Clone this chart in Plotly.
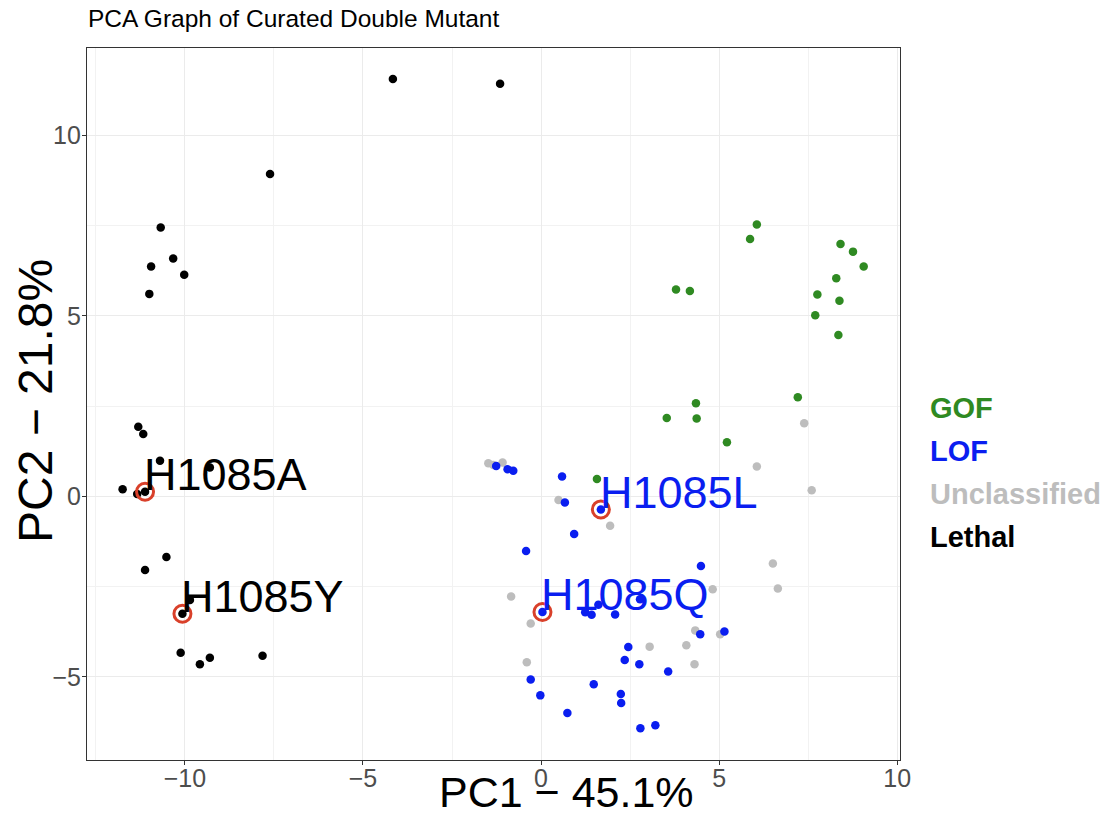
import plotly.graph_objects as go

# ---- data ----
gof_x = [6.06, 5.87, 8.41, 8.76, 9.06, 8.29, 3.79, 4.18, 7.76, 8.38, 7.70, 8.35,
         7.21, 4.35, 3.53, 4.37, 5.22, 1.57]
gof_y = [7.53, 7.13, 6.99, 6.78, 6.37, 6.04, 5.73, 5.69, 5.59, 5.42, 5.02, 4.47,
         2.75, 2.58, 2.17, 2.16, 1.50, 0.48]

lof_x = [-1.26, -0.94, -0.78, 0.59, 0.67, 0.93, -0.42, 4.49, 1.61, 1.24, 1.42, 2.08,
         2.78, 4.47, 5.15, 2.45, 2.35, 2.76, 3.57, -0.29, 1.48, 2.24, 2.25, -0.02,
         0.74, 2.79, 3.21, 1.68, 0.04]
lof_y = [0.84, 0.75, 0.71, 0.55, -0.17, -1.04, -1.51, -1.93, -3.00, -3.21, -3.28, -3.27,
         -2.85, -3.82, -3.74, -4.17, -4.53, -4.65, -4.85, -5.07, -5.20, -5.47, -5.72, -5.51,
         -6.00, -6.42, -6.34, -0.36, -3.20]

unc_x = [-1.48, -1.34, -1.08, 0.49, 1.94, 6.06, 7.39, 7.60, 6.51, 6.65, 4.82, -0.84,
         -0.29, 4.33, 5.03, 3.05, 4.08, 4.31, -0.40]
unc_y = [0.92, 0.87, 0.94, -0.10, -0.81, 0.83, 2.03, 0.17, -1.86, -2.55, -2.57, -2.77,
         -3.52, -3.71, -3.82, -4.16, -4.12, -4.65, -4.59]

lethal_x = [-4.16, -1.15, -7.61, -10.68, -10.33, -10.95, -10.02, -11.00, -11.31, -11.17,
            -10.70, -9.30, -11.75, -11.34, -11.12, -10.52, -11.12, -9.86, -10.07, -10.12,
            -9.58, -9.30, -7.82]
lethal_y = [11.56, 11.43, 8.93, 7.45, 6.59, 6.37, 6.14, 5.61, 1.93, 1.73,
            0.99, 0.80, 0.20, 0.07, 0.13, -1.68, -2.04, -2.87, -3.25, -4.33,
            -4.65, -4.47, -4.41]

hl_names = ["H1085A", "H1085Y", "H1085L", "H1085Q"]
hl_x = [-11.12, -10.07, 1.68, 0.04]
hl_y = [0.13, -3.25, -0.36, -3.20]
hl_class = ["Lethal", "Lethal", "LOF", "LOF"]

classes = ["GOF", "LOF", "Unclassified", "Lethal"]
class_colors = {"GOF": "#2f8a22", "LOF": "#0a1ef0", "Unclassified": "#bdbdbd", "Lethal": "#000000"}

x_ticks = [-10, -5, 0, 5, 10]
x_tick_text = ["\u221210", "\u22125", "0", "5", "10"]
y_ticks = [-5, 0, 5, 10]
y_tick_text = ["\u22125", "0", "5", "10"]

FONT = "Liberation Sans, Arial, Helvetica, sans-serif"

W, H = 1110, 817
ML, MR, MT, MB = 87, 210, 48, 57

fig = go.Figure()

series = {
    "GOF": (gof_x, gof_y),
    "LOF": (lof_x, lof_y),
    "Unclassified": (unc_x, unc_y),
    "Lethal": (lethal_x, lethal_y),
}
for name in ["Unclassified", "GOF", "Lethal", "LOF"]:
    xs, ys = series[name]
    fig.add_trace(go.Scatter(
        x=xs, y=ys, mode="markers", name=name, showlegend=False,
        marker=dict(size=8.5, color=class_colors[name], line=dict(width=0)),
    ))

# highlighted mutants (red rings)
fig.add_trace(go.Scatter(
    x=hl_x, y=hl_y, mode="markers", showlegend=False, name="highlight",
    marker=dict(symbol="circle-open", size=17, color="#d9402a", line=dict(width=3, color="#d9402a")),
))

# labels
for n, x, y, c in zip(hl_names, hl_x, hl_y, hl_class):
    fig.add_annotation(
        x=x, y=y, text=n, showarrow=False, xanchor="left", yanchor="middle",
        xshift=-3, yshift=17,
        font=dict(family=FONT, size=45, color=class_colors[c]),
    )

# legend (text only, coloured)
plot_h = H - MT - MB
plot_w = W - ML - MR
leg_px = [408, 451, 494, 537]
for name, py in zip(classes, leg_px):
    fig.add_annotation(
        x=(928 - ML) / plot_w, y=(H - MB - py) / plot_h, xref="paper", yref="paper",
        text="<b>%s</b>" % name,
        showarrow=False, xanchor="left", yanchor="middle",
        font=dict(family=FONT, size=29, color=class_colors[name]),
    )

# axis titles
fig.add_annotation(
    x=(566 - ML) / plot_w, y=-(792 - (H - MB)) / plot_h, xref="paper", yref="paper",
    text="PC1 \u2212 45.1%", showarrow=False, xanchor="center", yanchor="middle",
    font=dict(family=FONT, size=43, color="#000000"),
)
fig.add_annotation(
    x=-(ML - 35) / plot_w, y=(H - MB - 401) / plot_h, xref="paper", yref="paper",
    text="PC2 \u2212 21.8%", showarrow=False, xanchor="center", yanchor="middle",
    textangle=-90,
    font=dict(family=FONT, size=48, color="#000000"),
)

axis_common = dict(
    showline=True, linecolor="#333333", linewidth=1.2, mirror=True,
    showgrid=True, gridcolor="#ebebeb", gridwidth=1.2,
    zeroline=False, ticks="outside", ticklen=4, tickcolor="#333333", tickwidth=1,
    tickfont=dict(family=FONT, size=25, color="#4d4d4d"),
    automargin=False,
)

fig.update_layout(
    width=W, height=H,
    margin=dict(l=ML, r=MR, t=MT, b=MB),
    paper_bgcolor="white", plot_bgcolor="white",
    title=dict(text="PCA Graph of Curated Double Mutant", x=(ML + 1) / W, xanchor="left",
               y=1 - 18 / H, yanchor="middle",
               font=dict(family=FONT, size=24.5, color="#000000")),
    xaxis=dict(range=[-12.75, 10.08], tickvals=x_ticks, ticktext=x_tick_text,
               ticklabelstandoff=-8,
               minor=dict(dtick=2.5, tick0=0, showgrid=True, gridcolor="#f2f2f2", gridwidth=1),
               **axis_common),
    yaxis=dict(range=[-7.30, 12.42], tickvals=y_ticks, ticktext=y_tick_text,
               ticklabelstandoff=-4,
               minor=dict(dtick=2.5, tick0=0, showgrid=True, gridcolor="#f2f2f2", gridwidth=1),
               **axis_common),
)

fig.write_html("out.html")
